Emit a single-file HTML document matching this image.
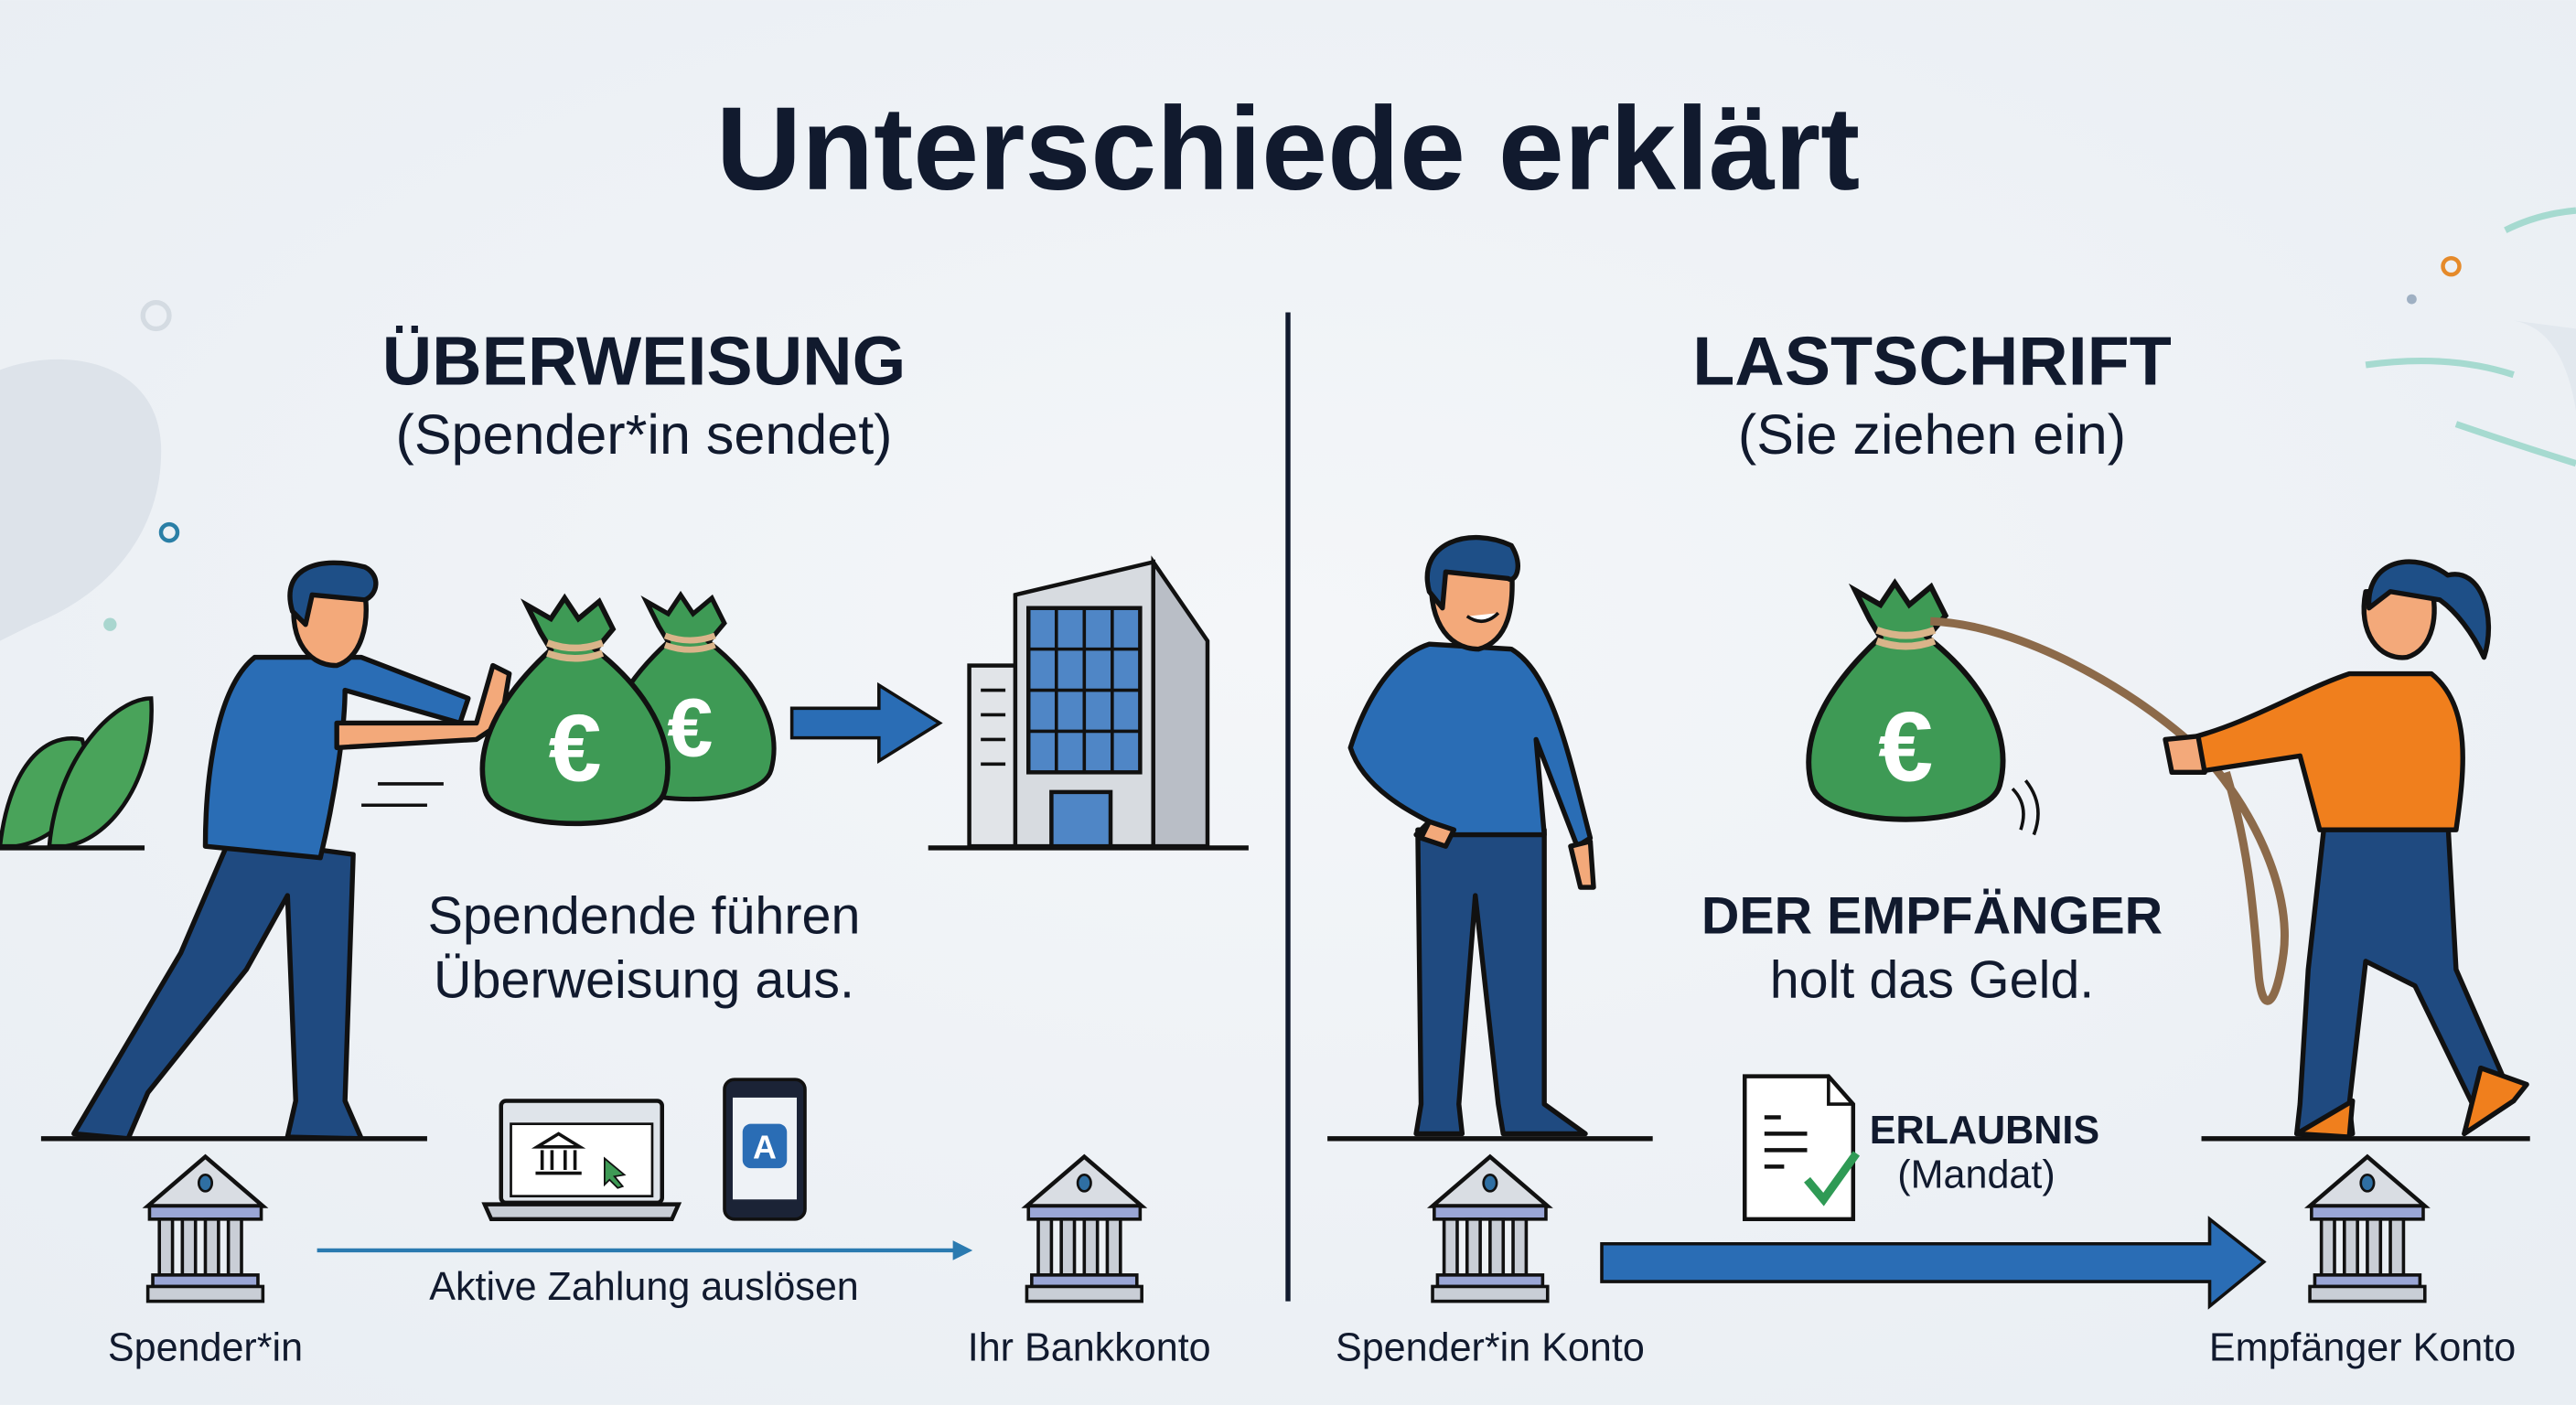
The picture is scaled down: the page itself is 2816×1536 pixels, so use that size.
<!DOCTYPE html>
<html><head><meta charset="utf-8"><style>
html,body{margin:0;padding:0;background:#eff2f6;}
svg{display:block}
text{font-family:"Liberation Sans",sans-serif;fill:#111a2e}
</style></head><body>
<svg width="2816" height="1536" viewBox="0 0 1568 855" xmlns="http://www.w3.org/2000/svg">
<defs>
<radialGradient id="bg" cx="50%" cy="45%" r="70%"><stop offset="0" stop-color="#f4f6f9"/><stop offset="1" stop-color="#e9eef3"/></radialGradient>
<g id="bank">
<polygon points="0,-38 -35,-8 35,-8" fill="#d9dde3" stroke="#111" stroke-width="2.5"/>
<ellipse cx="0" cy="-22" rx="4" ry="5" fill="#2f6fa3" stroke="#111" stroke-width="1.5"/>
<rect x="-34" y="-8" width="68" height="8" fill="#9aa6d6" stroke="#111" stroke-width="2"/>
<rect x="-28" y="0" width="8" height="34" fill="#c9ced6" stroke="#111" stroke-width="2"/>
<rect x="-14" y="0" width="8" height="34" fill="#c9ced6" stroke="#111" stroke-width="2"/>
<rect x="0" y="0" width="8" height="34" fill="#c9ced6" stroke="#111" stroke-width="2"/>
<rect x="14" y="0" width="8" height="34" fill="#c9ced6" stroke="#111" stroke-width="2"/>
<rect x="-32" y="34" width="64" height="7" fill="#9aa6d6" stroke="#111" stroke-width="2"/>
<rect x="-35" y="41" width="70" height="9" fill="#c9ced6" stroke="#111" stroke-width="2"/>
</g>
<g id="bag">
<path d="M-20,-62 L-28,-78 L-14,-70 L-6,-82 L2,-70 L14,-80 L22,-64 L12,-52 C40,-30 60,0 52,30 C45,55 -45,55 -52,30 C-60,0 -38,-30 -14,-52 Z" fill="#3e9a55" stroke="#111" stroke-width="3"/>
<path d="M-16,-56 Q0,-50 16,-56 M-16,-50 Q0,-44 16,-50" stroke="#d9b48a" stroke-width="4" fill="none"/>
</g>
</defs>
<rect width="1568" height="855" fill="url(#bg)"/>
<!-- decor -->
<path d="M0,225 C40,210 95,220 98,270 C100,320 70,360 20,380 L0,390 Z" fill="#dde3ea"/>
<circle cx="95" cy="192" r="8" fill="none" stroke="#d4dbe2" stroke-width="3"/>
<circle cx="103" cy="324" r="5" fill="none" stroke="#2a7fa6" stroke-width="2.5"/>
<circle cx="67" cy="380" r="4" fill="#a9d6cf"/>
<circle cx="1492" cy="162" r="5" fill="none" stroke="#e58a2a" stroke-width="2.5"/>
<circle cx="1468" cy="182" r="3" fill="#9fb0c3"/>
<path d="M1440,222 Q1490,215 1530,228 M1495,258 Q1530,270 1568,282 M1525,140 Q1545,130 1568,128" stroke="#a6dad0" stroke-width="4" fill="none"/>
<path d="M1530,195 Q1560,200 1568,250 L1568,200 Z" fill="#e2e8ee"/>
<!-- plant -->
<path d="M0,515 C5,470 25,445 50,450 C60,480 40,510 10,515 Z" fill="#49a35a" stroke="#111" stroke-width="2.5"/>
<path d="M30,515 C35,460 70,425 92,425 C95,470 70,510 40,515 Z" fill="#49a35a" stroke="#111" stroke-width="2.5"/>
<line x1="0" y1="516" x2="88" y2="516" stroke="#111" stroke-width="3"/>
<!-- Title -->
<text x="784" y="115" font-size="72" font-weight="bold" text-anchor="middle">Unterschiede erklärt</text>
<line x1="784" y1="190" x2="784" y2="792" stroke="#111a2e" stroke-width="3"/>
<text x="392" y="234" font-size="42" font-weight="bold" text-anchor="middle">ÜBERWEISUNG</text>
<text x="392" y="276" font-size="34" text-anchor="middle">(Spender*in sendet)</text>
<text x="1176" y="234" font-size="42" font-weight="bold" text-anchor="middle">LASTSCHRIFT</text>
<text x="1176" y="276" font-size="34" text-anchor="middle">(Sie ziehen ein)</text>
<!-- left person -->
<g stroke="#111" stroke-width="3" stroke-linejoin="round">
<path d="M140,510 L110,580 L58,668 L45,690 L78,693 L90,665 L150,590 L175,545 L180,670 L175,692 L220,693 L210,670 L215,520 Z" fill="#1f4a80"/>
<path d="M155,400 C130,420 125,480 125,515 L195,522 C205,480 210,440 210,420 L280,440 L285,425 L220,400 Z" fill="#2a6db5"/>
<path d="M205,440 L290,440 L300,405 L310,410 L305,440 L290,450 L205,455 Z" fill="#f3a97a"/>
<path d="M180,360 C175,385 185,405 205,405 C220,400 225,380 222,360 Z" fill="#f3a97a"/>
<path d="M178,372 C170,345 195,338 222,345 C232,350 230,362 222,365 L190,362 L186,380 Z" fill="#1e4f87"/>
</g>
<path d="M230,477 L270,477 M220,490 L260,490" stroke="#111" stroke-width="2"/>
<line x1="25" y1="693" x2="260" y2="693" stroke="#111" stroke-width="3"/>
<!-- bags left -->
<use href="#bag" transform="translate(420,440) scale(0.95)"/>
<use href="#bag" transform="translate(350,450) scale(1.05)"/>
<text x="350" y="475" font-size="58" font-weight="bold" fill="#fff" style="fill:#fff" text-anchor="middle">€</text>
<text x="420" y="460" font-size="50" font-weight="bold" style="fill:#fff" text-anchor="middle">€</text>
<!-- arrow -->
<polygon points="482,431 535,431 535,417 572,440 535,463 535,449 482,449" fill="#2a6db5" stroke="#111" stroke-width="2"/>
<!-- building -->
<g stroke="#111" stroke-width="2.5">
<rect x="590" y="405" width="30" height="110" fill="#e1e4e8"/>
<polygon points="618,362 702,342 702,515 618,515" fill="#d7dbe0"/>
<polygon points="702,342 735,390 735,515 702,515" fill="#b9bec6"/>
<rect x="626" y="370" width="68" height="100" fill="#4f86c6"/>
<rect x="640" y="482" width="36" height="33" fill="#4f86c6"/>
</g>
<path d="M643,370 V470 M660,370 V470 M677,370 V470 M626,395 H694 M626,420 H694 M626,445 H694" stroke="#111" stroke-width="2"/>
<path d="M597,420 H612 M597,435 H612 M597,450 H612 M597,465 H612" stroke="#111" stroke-width="2"/>
<line x1="565" y1="516" x2="760" y2="516" stroke="#111" stroke-width="3"/>
<text x="392" y="568" font-size="32" text-anchor="middle">Spendende führen</text>
<text x="392" y="607" font-size="32" text-anchor="middle">Überweisung aus.</text>
<!-- laptop -->
<rect x="305" y="670" width="98" height="62" rx="3" fill="#dfe4ea" stroke="#111" stroke-width="2.5"/>
<rect x="311" y="684" width="86" height="44" fill="#fff" stroke="#111" stroke-width="1.5"/>
<path d="M295,733 H413 L409,742 H299 Z" fill="#c9ced6" stroke="#111" stroke-width="2.5"/>
<path d="M327,698 L340,690 L353,698 Z M330,700 V712 M336,700 V712 M344,700 V712 M350,700 V712 M326,714 H354" stroke="#111" stroke-width="2" fill="#fff"/>
<path d="M368,705 L380,715 L374,716 L379,722 L376,723 L371,718 L368,721 Z" fill="#3e9a55" stroke="#111" stroke-width="1"/>
<rect x="441" y="657" width="49" height="85" rx="6" fill="#1b2336" stroke="#111" stroke-width="2"/>
<rect x="446" y="668" width="39" height="62" fill="#eef2f6"/>
<rect x="452" y="684" width="27" height="27" rx="5" fill="#2a6db5"/>
<text x="465.5" y="705" font-size="20" font-weight="bold" style="fill:#fff" text-anchor="middle">A</text>
<!-- bottom left -->
<use href="#bank" transform="translate(125,742)"/>
<use href="#bank" transform="translate(660,742)"/>
<line x1="193" y1="761" x2="582" y2="761" stroke="#2a7ab0" stroke-width="2.5"/>
<polygon points="592,761 580,755 580,767" fill="#2a7ab0"/>
<text x="392" y="791" font-size="24" text-anchor="middle">Aktive Zahlung auslösen</text>
<text x="125" y="828" font-size="24" text-anchor="middle">Spender*in</text>
<text x="663" y="828" font-size="24" text-anchor="middle">Ihr Bankkonto</text>
<!-- right standing person -->
<g stroke="#111" stroke-width="3" stroke-linejoin="round">
<path d="M863,505 L865,672 L862,690 L890,690 L888,672 L898,545 L912,672 L915,690 L965,690 L940,672 L940,505 Z" fill="#1f4a80"/>
<path d="M870,392 C845,400 830,430 822,455 C830,480 860,495 870,500 L862,508 L940,508 L935,450 L960,515 L968,510 C955,460 945,410 920,395 Z" fill="#2a6db5"/>
<path d="M870,500 L885,505 L880,515 L865,510 Z M956,515 L968,512 L970,540 L962,540 Z" fill="#f3a97a"/>
<path d="M872,345 C868,375 880,395 900,395 C918,390 922,370 920,345 Z" fill="#f3a97a"/>
<path d="M870,360 C862,330 895,320 920,332 C928,345 922,355 918,352 L880,348 L878,370 Z" fill="#1e4f87"/>
</g>
<path d="M893,375 Q903,382 912,373" stroke="#111" stroke-width="2" fill="#fff"/>
<line x1="808" y1="693" x2="1006" y2="693" stroke="#111" stroke-width="3"/>
<!-- right bag + rope -->
<use href="#bag" transform="translate(1160,445) scale(1.1)"/>
<text x="1160" y="475" font-size="60" font-weight="bold" style="fill:#fff" text-anchor="middle">€</text>
<path d="M1175,378 C1230,380 1300,420 1340,458 C1370,490 1395,540 1390,580 C1386,610 1378,620 1375,595 C1372,560 1370,520 1355,470" stroke="#8c6a4a" stroke-width="5" fill="none"/>
<path d="M1225,480 Q1235,490 1230,505 M1233,475 Q1245,490 1238,508" stroke="#111" stroke-width="2" fill="none"/>
<!-- woman -->
<g stroke="#111" stroke-width="3" stroke-linejoin="round">
<path d="M1415,500 L1405,590 L1400,672 L1398,690 L1432,690 L1430,672 L1440,585 L1470,600 L1505,672 L1500,690 L1530,670 L1495,590 L1490,500 Z" fill="#1f4a80"/>
<path d="M1430,410 C1400,420 1370,440 1330,450 L1335,470 L1400,460 L1412,505 L1495,505 C1500,470 1505,430 1480,410 Z" fill="#f07f1d"/>
<path d="M1318,450 L1338,448 L1342,470 L1322,470 Z" fill="#f3a97a"/>
<path d="M1440,360 C1435,385 1448,402 1465,400 C1482,395 1484,372 1480,358 Z" fill="#f3a97a"/>
<path d="M1442,370 C1440,340 1470,335 1490,350 C1510,345 1520,375 1512,400 C1505,385 1495,372 1485,365 L1455,360 Z" fill="#1e4f87"/>
<path d="M1432,670 L1398,690 L1430,692 Z M1500,690 L1530,670 L1538,660 L1510,650 Z" fill="#f07f1d"/>
</g>
<line x1="1340" y1="693" x2="1540" y2="693" stroke="#111" stroke-width="3"/>
<text x="1176" y="568" font-size="32" font-weight="bold" text-anchor="middle">DER EMPFÄNGER</text>
<text x="1176" y="607" font-size="32" text-anchor="middle">holt das Geld.</text>
<!-- document -->
<path d="M1062,655 H1113 L1128,672 V742 H1062 Z" fill="#fff" stroke="#111" stroke-width="2.5"/>
<path d="M1113,655 V672 H1128" fill="none" stroke="#111" stroke-width="2"/>
<path d="M1074,680 H1084 M1074,690 H1100 M1074,700 H1100 M1074,710 H1086" stroke="#111" stroke-width="2.5"/>
<path d="M1100,718 L1110,730 L1130,702" stroke="#2f9a55" stroke-width="5" fill="none"/>
<text x="1138" y="696" font-size="24" font-weight="bold">ERLAUBNIS</text>
<text x="1155" y="723" font-size="24">(Mandat)</text>
<!-- thick arrow -->
<polygon points="975,757 1345,757 1345,742 1378,768 1345,795 1345,780 975,780" fill="#2a6db5" stroke="#111" stroke-width="2"/>
<use href="#bank" transform="translate(907,742)"/>
<use href="#bank" transform="translate(1441,742)"/>
<text x="907" y="828" font-size="24" text-anchor="middle">Spender*in Konto</text>
<text x="1438" y="828" font-size="24" text-anchor="middle">Empfänger Konto</text>
</svg>
</body></html>
